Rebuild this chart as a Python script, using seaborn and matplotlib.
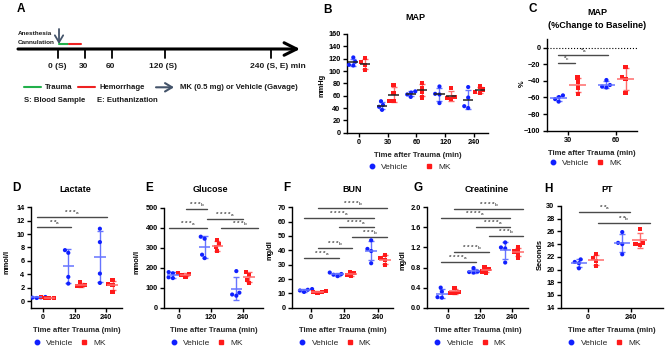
import numpy as np
import pandas as pd
import seaborn as sns
import matplotlib.pyplot as plt
from matplotlib.lines import Line2D
from matplotlib.patches import FancyArrowPatch

# ---------------- data ----------------
map_times = ['0', '30', '60', '120', '240']
map_vehicle = [[122, 115, 110, 109], [51, 45, 42, 37], [67, 65, 62, 58], [75, 63, 62, 48], [74, 57, 43, 40]]
map_mk = [[121, 114, 110, 102], [77, 65, 52, 51], [80, 73, 66, 57], [72, 58, 56, 54], [75, 70, 66, 65]]

pct_times = ['30', '60']
pct_vehicle = [[-57.5, -59.5, -62, -65], [-39, -45, -47, -48]]
pct_mk = [[-36, -41, -56, -48], [-23, -35, -38, -55]]

lab_times = ['0', '120', '240']
lactate_vehicle = [[0.45, 0.5, 0.55, 0.6], [7.6, 7.2, 3.6, 2.6], [10.8, 8.8, 4.1, 2.7]]
lactate_mk = [[0.4, 0.45, 0.5, 0.55], [2.8, 2.4, 2.3, 2.2], [3.1, 2.5, 2.4, 1.4]]
glucose_vehicle = [[178, 172, 152, 148], [355, 345, 265, 248], [183, 75, 66, 60]]
glucose_mk = [[175, 168, 162, 155], [340, 318, 302, 282], [178, 165, 140, 122]]
bun_vehicle = [[13, 12.5, 12, 11], [24.5, 23.5, 23, 22], [47, 41, 39.5, 31]]
bun_mk = [[11.5, 11.2, 11, 10.5], [25, 24, 23, 22], [36.5, 34.5, 33.5, 29.5]]
creat_vehicle = [[0.4, 0.32, 0.21, 0.2], [0.79, 0.72, 0.71, 0.7], [1.3, 1.2, 1.18, 0.9]]
creat_mk = [[0.4, 0.32, 0.3, 0.3], [0.8, 0.77, 0.72, 0.7], [1.2, 1.12, 1.1, 1.0]]
pt_times = ['0', '240']
pt_vehicle = [[21.6, 21.2, 21.0, 20.2], [25.9, 24.2, 24.0, 22.4]]
pt_mk = [[22.5, 21.8, 21.4, 20.6], [26.4, 24.2, 24.0, 23.8]]

# significance bars: (from, to, height, label)
pct_sig = [(-0.21, 0.84, -8.5, '*$_{a}$'), (-0.21, 0.14, -18.2, '*$_{c}$')]
lactate_sig = [(-0.18, 0.9, 11.0, '* *$_{a}$'), (-0.18, 2.02, 12.6, '* * *$_{a}$')]
glucose_sig = [(-0.32, 0.88, 397, '* * *$_{a}$'), (0.21, 0.88, 492, '* * *$_{b}$'),
               (0.88, 2.0, 442, '* * * *$_{a}$'), (1.31, 2.49, 397, '* * *$_{b}$')]
bun_sig = [(0.22, 2.27, 69.3, '* * * *$_{b}$'), (-0.2, 1.88, 62.8, '* * * *$_{a}$'),
           (0.84, 1.88, 56, '* * * *$_{a}$'), (1.24, 2.28, 49.5, '* * *$_{b}$'),
           (0.22, 1.24, 41.9, '* * *$_{b}$'), (-0.2, 0.84, 34.9, '* * *$_{a}$')]
creat_sig = [(0.19, 2.37, 1.97, '* * * *$_{b}$'), (-0.23, 1.95, 1.78, '* * * *$_{a}$'),
             (0.87, 1.95, 1.61, '* * * *$_{a}$'), (1.29, 2.37, 1.42, '* * *$_{b}$'),
             (0.19, 1.29, 1.10, '* * * *$_{b}$'), (-0.23, 0.87, 0.92, '* * * *$_{a}$')]
pt_sig = [(-0.2, 0.98, 29.1, '* *$_{a}$'), (0.25, 1.44, 27.4, '* *$_{b}$')]

# timeline (panel A), minutes
timeline_ticks = [0, 30, 60, 120, 240]
timeline_labels = ['0 (S)', '30', '60', '120 (S)', '240 (S, E) min']
trauma_span = (1, 11)
hemorrhage_span = (12, 26)

# ---------------- style ----------------
sns.set_theme(style='ticks')
plt.rcParams['font.family'] = ['Liberation Sans', 'DejaVu Sans']
plt.rcParams['font.weight'] = 'bold'
plt.rcParams['axes.labelweight'] = 'bold'
plt.rcParams['mathtext.default'] = 'regular'
plt.rcParams['axes.edgecolor'] = 'black'
plt.rcParams['axes.linewidth'] = 1.0
plt.rcParams['xtick.color'] = 'black'
plt.rcParams['ytick.color'] = 'black'

VEH_C, MK_C = '#1020ff', '#ff1a1a'
VEH_E, MK_E = '#6674ff', '#ff6b6b'
GREEN, SLATE = '#22b04b', '#44546a'

W, H = 668, 350


def box(l, t, r, b):
    return [l / W, 1 - b / H, (r - l) / W, (b - t) / H]


fig = plt.figure(figsize=(6.68, 3.5), dpi=100)
bg = fig.add_axes([0, 0, 1, 1])
bg.set_xlim(0, W)
bg.set_ylim(H, 0)
bg.axis('off')


def panel(rect, times, veh, mk, xlim, ylim, yticks, sigs, mean_col=None, fmt=None, leg_x=0.43, colsp=1.0):
    ax = fig.add_axes(rect)
    rows = []
    for t, v, m in zip(times, veh, mk):
        rows += [(t, 'Vehicle', y) for y in v]
        rows += [(t, 'MK', y) for y in m]
    df = pd.DataFrame(rows, columns=['time', 'group', 'value'])
    for g, mark in [('Vehicle', 'o'), ('MK', 's')]:
        sns.swarmplot(data=df[df.group == g], x='time', y='value', hue='group',
                      hue_order=['Vehicle', 'MK'], order=times, dodge=True,
                      palette={'Vehicle': VEH_C, 'MK': MK_C}, marker=mark,
                      size=3.0, linewidth=0, legend=False, ax=ax, zorder=3)
    stats = df.groupby(['time', 'group'])['value'].agg(['mean', 'std'])
    for i, t in enumerate(times):
        for g, off, ec in [('Vehicle', -0.2, VEH_E), ('MK', 0.2, MK_E)]:
            mu, sd = stats.loc[(t, g)]
            ax.errorbar(i + off, mu, yerr=sd, fmt='none', ecolor=ec, elinewidth=1,
                        capsize=2.5, capthick=1, zorder=2)
            ax.hlines(mu, i + off - 0.18, i + off + 0.18, colors=mean_col or ec, lw=1.1, zorder=4)
    for x1, x2, y, lab in sigs:
        ax.plot([x1, x2], [y, y], color='#4a4a4a', lw=1, clip_on=False)
        ax.text((x1 + x2) / 2, y, lab, ha='center', va='bottom', fontsize=4.6, color='#4a4a4a')
    ax.set_xlim(*xlim)
    ax.set_ylim(*ylim)
    ax.set_yticks(yticks)
    if fmt:
        ax.set_yticklabels([fmt % v for v in yticks])
    ax.set_xticks(range(len(times)))
    ax.set_xticklabels(times)
    ax.set_xlabel('Time after Trauma (min)', fontsize=5.6, labelpad=4)
    ax.set_ylabel('')
    ax.tick_params(labelsize=5.3, length=3, width=1, pad=1.5)
    sns.despine(ax=ax)
    handles = [Line2D([], [], marker='o', ls='', color=VEH_C, ms=3.2),
               Line2D([], [], marker='s', ls='', color=MK_C, ms=3)]
    ax.legend(handles, ['Vehicle', 'MK'], loc='center', bbox_to_anchor=(leg_x, -0.35),
              ncol=2, frameon=False, prop={'size': 6, 'weight': 'normal'},
              handlelength=0.6, handletextpad=0.8, columnspacing=colsp)
    return ax


# ---------------- panel A ----------------
def pxm(px):
    return (px - 58.3) / 0.8875


def arrow(ax, p0, p1, style, lw, color):
    ax.add_patch(FancyArrowPatch(p0, p1, arrowstyle=style, lw=lw, color=color,
                                 mutation_scale=10, shrinkA=0, shrinkB=0, clip_on=False))


axA = fig.add_axes(box(0, 0, 330, 140))
axA.set_xlim(pxm(0), pxm(330))
axA.set_ylim(140, 0)
axA.axis('off')
arrow(axA, (pxm(18), 49), (pxm(300), 49), '->,head_length=0.9,head_width=0.45', 2.2, 'black')
for t, lab in zip(timeline_ticks, timeline_labels):
    axA.plot([t, t], [49, 58], color='black', lw=1.3)
    dx = 4.5 if t == timeline_ticks[-1] else -1.0
    axA.annotate(lab, (t, 67), xytext=(dx, 0), textcoords='offset points',
                 ha='center', va='center', fontsize=6, color='#1a1a1a')
axA.plot(trauma_span, [44.3, 44.3], color=GREEN, lw=1.5)
axA.plot(hemorrhage_span, [44.3, 44.3], color='#ee2222', lw=1.5)
arrow(axA, (0.8, 29), (0.8, 44), '->,head_length=0.5,head_width=0.3', 1.3, SLATE)
axA.text(pxm(18), 33.5, 'Anesthesia', fontsize=4.6, ha='left', va='center', color='#1a1a1a')
axA.text(pxm(18), 42, 'Cannulation', fontsize=4.6, ha='left', va='center', color='#1a1a1a')
axA.plot([pxm(24), pxm(41)], [87.3, 87.3], color=GREEN, lw=1.5)
axA.text(pxm(45), 87.3, 'Trauma', fontsize=5.6, va='center', color='#1a1a1a')
axA.plot([pxm(78), pxm(95)], [87.3, 87.3], color='#ee2222', lw=1.5)
axA.text(pxm(99), 87.3, 'Hemorrhage', fontsize=5.6, va='center', color='#1a1a1a')
arrow(axA, (pxm(156), 87.3), (pxm(174), 87.3), '->,head_length=0.5,head_width=0.3', 1.5, SLATE)
axA.text(pxm(180), 87.3, 'MK (0.5 mg) or Vehicle (Gavage)', fontsize=5.6, va='center', color='#1a1a1a')
axA.text(pxm(24), 101, 'S: Blood Sample', fontsize=5.6, va='center', color='#1a1a1a')
axA.text(pxm(97), 101, 'E: Euthanization', fontsize=5.6, va='center', color='#1a1a1a')

# ---------------- panels B-H ----------------
axB = panel(box(346.7, 34, 488, 132.7), map_times, map_vehicle, map_mk, (-0.43, 4.49), (0, 160),
            range(0, 161, 20), [], mean_col='#222222', leg_x=0.45, colsp=2.2)
axC = panel(box(546.7, 39.3, 637, 130.7), pct_times, pct_vehicle, pct_mk, (-0.45, 1.44), (-100, 10),
            range(-100, 1, 20), pct_sig, leg_x=0.44, colsp=1.0)
axC.axhline(0, ls=':', color='black', lw=0.8, zorder=1)

bottom = 307.7
axD = panel(box(30.7, 207.3, 122, bottom), lab_times, lactate_vehicle, lactate_mk, (-0.39, 2.5), (-1, 14),
            range(0, 15, 2), lactate_sig)
axE = panel(box(164.3, 207.7, 263, bottom), lab_times, glucose_vehicle, glucose_mk, (-0.47, 2.64), (0, 500),
            range(0, 501, 100), glucose_sig)
axF = panel(box(292.3, 207.3, 393, bottom), lab_times, bun_vehicle, bun_mk, (-0.55, 2.45), (0, 70),
            range(0, 71, 10), bun_sig)
axG = panel(box(427.3, 207.3, 528, bottom), lab_times, creat_vehicle, creat_mk, (-0.66, 2.52), (0, 2.0),
            np.arange(0, 2.01, 0.4), creat_sig, fmt='%.1f')
axH = panel(box(560.7, 206, 663, bottom), pt_times, pt_vehicle, pt_mk, (-0.62, 1.74), (14, 30),
            range(14, 31, 2), pt_sig)

# ---------------- titles, letters, y labels ----------------
for lab, x, y in [('A', 20.7, 9.3), ('B', 328, 10), ('C', 532.7, 9.3), ('D', 16.7, 188.3), ('E', 149.3, 188.3),
                  ('F', 287.3, 188.3), ('G', 417.7, 188.3), ('H', 548.3, 189)]:
    bg.text(x, y, lab, fontsize=8.5, ha='center', va='center', color='black')

for lab, x, y in [('MAP', 415, 18), ('MAP', 597, 12.7), ('(%Change to Baseline)', 597, 25),
                  ('Lactate', 75, 190), ('Glucose', 210.7, 190), ('BUN', 351.7, 190),
                  ('Creatinine', 486.7, 190), ('PT', 606.7, 189)]:
    bg.text(x, y, lab, fontsize=6.5, ha='center', va='center', color='black')

for lab, x, y in [('mmHg', 321.7, 85), ('%', 522, 84), ('mmol/l', 7, 262), ('mmol/l', 136.7, 262),
                  ('mg/dl', 270, 250), ('mg/dl', 403, 260), ('Seconds', 540, 255)]:
    bg.text(x, y, lab, fontsize=5.4, ha='center', va='center', rotation=90, color='black')

fig.savefig('out.png', dpi=100)
